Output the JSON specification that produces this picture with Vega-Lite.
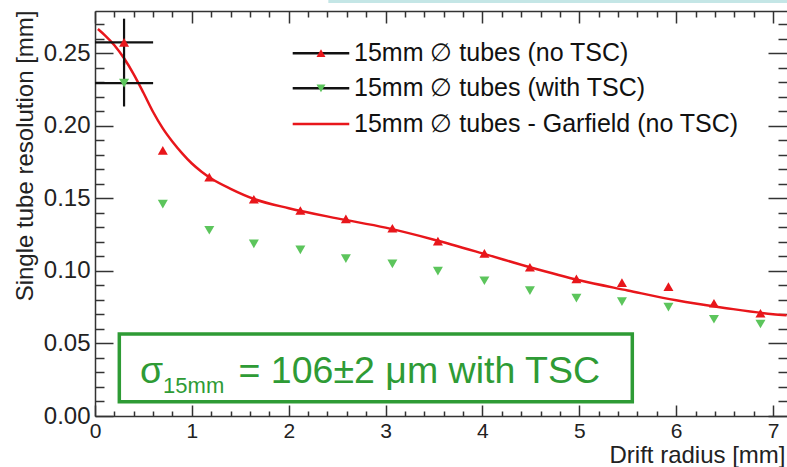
{
  "$schema": "https://vega.github.io/schema/vega-lite/v6.json",
  "width": 692,
  "height": 405,
  "autosize": {"type": "none"},
  "padding": {"left": 95, "top": 11, "right": 0, "bottom": 51},
  "background": "white",
  "config": {
    "view": {"stroke": null},
    "font": "Liberation Sans",
    "axis": {
      "domainColor": "#333", "domainWidth": 1.5, "tickColor": "#333", "tickWidth": 1.5,
      "grid": false, "labelColor": "#222", "titleColor": "#222",
      "labelFont": "Liberation Sans", "titleFont": "Liberation Sans", "titleFontWeight": "normal",
      "labelOverlap": false, "labelFlush": false, "labelBound": false
    }
  },
  "datasets": {
    "points": [
      {"r": 0.30, "res": 0.2575, "series": "no TSC"},
      {"r": 0.70, "res": 0.1830, "series": "no TSC"},
      {"r": 1.18, "res": 0.1646, "series": "no TSC"},
      {"r": 1.64, "res": 0.1494, "series": "no TSC"},
      {"r": 2.12, "res": 0.1416, "series": "no TSC"},
      {"r": 2.59, "res": 0.1359, "series": "no TSC"},
      {"r": 3.07, "res": 0.1294, "series": "no TSC"},
      {"r": 3.54, "res": 0.1205, "series": "no TSC"},
      {"r": 4.02, "res": 0.1121, "series": "no TSC"},
      {"r": 4.49, "res": 0.1025, "series": "no TSC"},
      {"r": 4.97, "res": 0.0945, "series": "no TSC"},
      {"r": 5.44, "res": 0.0919, "series": "no TSC"},
      {"r": 5.92, "res": 0.0892, "series": "no TSC"},
      {"r": 6.39, "res": 0.0777, "series": "no TSC"},
      {"r": 6.87, "res": 0.0708, "series": "no TSC"},
      {"r": 0.30, "res": 0.2294, "series": "with TSC"},
      {"r": 0.70, "res": 0.1460, "series": "with TSC"},
      {"r": 1.18, "res": 0.1280, "series": "with TSC"},
      {"r": 1.64, "res": 0.1186, "series": "with TSC"},
      {"r": 2.12, "res": 0.1145, "series": "with TSC"},
      {"r": 2.59, "res": 0.1085, "series": "with TSC"},
      {"r": 3.07, "res": 0.1048, "series": "with TSC"},
      {"r": 3.54, "res": 0.0998, "series": "with TSC"},
      {"r": 4.02, "res": 0.0932, "series": "with TSC"},
      {"r": 4.49, "res": 0.0864, "series": "with TSC"},
      {"r": 4.97, "res": 0.0812, "series": "with TSC"},
      {"r": 5.44, "res": 0.0788, "series": "with TSC"},
      {"r": 5.92, "res": 0.0750, "series": "with TSC"},
      {"r": 6.39, "res": 0.0667, "series": "with TSC"},
      {"r": 6.87, "res": 0.0634, "series": "with TSC"}
    ],
    "curve": [
      {"r": 0.03, "res": 0.2667}, {"r": 0.1, "res": 0.2625}, {"r": 0.2, "res": 0.2555},
      {"r": 0.3, "res": 0.2465}, {"r": 0.4, "res": 0.2355}, {"r": 0.5, "res": 0.2228},
      {"r": 0.6, "res": 0.2095}, {"r": 0.7, "res": 0.1982}, {"r": 0.8, "res": 0.1890},
      {"r": 0.9, "res": 0.1810}, {"r": 1.0, "res": 0.1740}, {"r": 1.1, "res": 0.1684},
      {"r": 1.2, "res": 0.1637}, {"r": 1.4, "res": 0.1566}, {"r": 1.65, "res": 0.1494},
      {"r": 2.0, "res": 0.1432}, {"r": 2.5, "res": 0.1362}, {"r": 3.0, "res": 0.1298},
      {"r": 3.5, "res": 0.1215}, {"r": 4.0, "res": 0.1121}, {"r": 4.5, "res": 0.1023},
      {"r": 5.0, "res": 0.0935}, {"r": 5.5, "res": 0.0865}, {"r": 6.0, "res": 0.0797},
      {"r": 6.5, "res": 0.0745}, {"r": 7.0, "res": 0.0702}, {"r": 7.14, "res": 0.0695}
    ],
    "errors": [
      {"r": 0.3, "res": 0.2575, "rlo": 0.0, "rhi": 0.6, "reslo": 0.2420, "reshi": 0.2738},
      {"r": 0.3, "res": 0.2294, "rlo": 0.0, "rhi": 0.6, "reslo": 0.2133, "reshi": 0.2450}
    ],
    "legend": [
      {"k": "a", "label": "15mm ∅ tubes (no TSC)", "x1": 2.041, "x2": 2.625, "xm": 2.333, "tx": 2.674, "y": 0.2500},
      {"k": "b", "label": "15mm ∅ tubes (with TSC)", "x1": 2.041, "x2": 2.625, "xm": 2.333, "tx": 2.674, "y": 0.2258},
      {"k": "c", "label": "15mm ∅ tubes - Garfield (no TSC)", "x1": 2.041, "x2": 2.625, "xm": 2.333, "tx": 2.674, "y": 0.2012}
    ],
    "box": [{"x1": 0.251, "x2": 5.547, "y1": 0.00986, "y2": 0.0565}],
    "band": [{"x1": 2.409, "x2": 7.3, "y1": 0.2846, "y2": 0.2870}],
    "annot": [
      {"t": "σ", "x": 0.465, "y": 0.02295, "kind": "big"},
      {"t": "15mm", "x": 0.703, "y": 0.01585, "kind": "sub"},
      {"t": "= 106±2 μm with TSC", "x": 1.482, "y": 0.02295, "kind": "big"}
    ]
  },
  "resolve": {"axis": {"x": "independent", "y": "independent"}},
  "layer": [
    {
      "data": {"name": "band"},
      "mark": {"type": "rect", "color": "#c4e6e6", "clip": false},
      "encoding": {
        "x": {"field": "x1", "type": "quantitative", "scale": {"domain": [0, 7.144], "nice": false, "zero": false}, "axis": null},
        "x2": {"field": "x2"},
        "y": {"field": "y1", "type": "quantitative", "scale": {"domain": [0, 0.2791], "nice": false, "zero": false}, "axis": null},
        "y2": {"field": "y2"}
      }
    },
    {
      "data": {"name": "box"},
      "mark": {"type": "rect", "fill": "white", "stroke": "#2e9b35", "strokeWidth": 3.5},
      "encoding": {
        "x": {"field": "x1", "type": "quantitative", "scale": {"domain": [0, 7.144], "nice": false, "zero": false}, "axis": null},
        "x2": {"field": "x2"},
        "y": {"field": "y1", "type": "quantitative", "scale": {"domain": [0, 0.2791], "nice": false, "zero": false}, "axis": null},
        "y2": {"field": "y2"}
      }
    },
    {
      "data": {"name": "curve"},
      "mark": {"type": "line", "color": "#e8161b", "strokeWidth": 2.5, "interpolate": "monotone"},
      "encoding": {
        "x": {
          "field": "r", "type": "quantitative",
          "scale": {"domain": [0, 7.144], "nice": false, "zero": false},
          "axis": {
            "orient": "bottom",
            "values": [0, 0.2, 0.4, 0.6, 0.8, 1, 1.2, 1.4, 1.6, 1.8, 2, 2.2, 2.4, 2.6, 2.8, 3, 3.2, 3.4, 3.6, 3.8, 4, 4.2, 4.4, 4.6, 4.8, 5, 5.2, 5.4, 5.6, 5.8, 6, 6.2, 6.4, 6.6, 6.8, 7],
            "tickSize": {"condition": {"test": "abs(datum.value - round(datum.value)) < 0.001", "value": -11}, "value": -5},
            "labelExpr": "abs(datum.value - round(datum.value)) < 0.001 ? format(datum.value, 'd') : ''",
            "labelFontSize": 21,
            "labelPadding": 15,
            "title": "Drift radius [mm]",
            "titleFontSize": 24,
            "titleAnchor": "start",
            "titleAlign": "left",
            "titleBaseline": "alphabetic",
            "titleX": 514,
            "titleY": 46
          }
        },
        "y": {
          "field": "res", "type": "quantitative",
          "scale": {"domain": [0, 0.2791], "nice": false, "zero": false},
          "axis": {
            "orient": "left",
            "values": [0, 0.01, 0.02, 0.03, 0.04, 0.05, 0.06, 0.07, 0.08, 0.09, 0.1, 0.11, 0.12, 0.13, 0.14, 0.15, 0.16, 0.17, 0.18, 0.19, 0.2, 0.21, 0.22, 0.23, 0.24, 0.25, 0.26, 0.27],
            "tickSize": {"condition": {"test": "abs(datum.value * 20 - round(datum.value * 20)) < 0.001", "value": -18}, "value": -9},
            "labelExpr": "abs(datum.value * 20 - round(datum.value * 20)) < 0.001 ? format(datum.value, '.2f') : ''",
            "labelFontSize": 24,
            "labelPadding": 23,
            "title": "Single tube resolution [mm]",
            "titleFontSize": 24,
            "titleAngle": -90,
            "titleAlign": "right",
            "titleBaseline": "alphabetic",
            "titleX": -63,
            "titleY": -1
          }
        }
      }
    },
    {
      "data": {"name": "errors"},
      "mark": {"type": "rule", "color": "#111", "strokeWidth": 2.2},
      "encoding": {
        "x": {"field": "rlo", "type": "quantitative", "scale": {"domain": [0, 7.144], "nice": false, "zero": false}, "axis": null},
        "x2": {"field": "rhi"},
        "y": {"field": "res", "type": "quantitative", "scale": {"domain": [0, 0.2791], "nice": false, "zero": false}, "axis": null}
      }
    },
    {
      "data": {"name": "errors"},
      "mark": {"type": "rule", "color": "#111", "strokeWidth": 2.2},
      "encoding": {
        "x": {"field": "r", "type": "quantitative", "scale": {"domain": [0, 7.144], "nice": false, "zero": false}, "axis": null},
        "y": {"field": "reslo", "type": "quantitative", "scale": {"domain": [0, 0.2791], "nice": false, "zero": false}, "axis": null},
        "y2": {"field": "reshi"}
      }
    },
    {
      "data": {"name": "points"},
      "transform": [{"filter": "datum.series == 'no TSC'"}],
      "mark": {"type": "point", "shape": "triangle-up", "filled": true, "color": "#e8161b", "size": 100, "opacity": 1},
      "encoding": {
        "x": {
          "field": "r", "type": "quantitative",
          "scale": {"domain": [0, 7.144], "nice": false, "zero": false},
          "axis": {
            "orient": "top",
            "values": [0, 0.2, 0.4, 0.6, 0.8, 1, 1.2, 1.4, 1.6, 1.8, 2, 2.2, 2.4, 2.6, 2.8, 3, 3.2, 3.4, 3.6, 3.8, 4, 4.2, 4.4, 4.6, 4.8, 5, 5.2, 5.4, 5.6, 5.8, 6, 6.2, 6.4, 6.6, 6.8, 7],
            "tickSize": {"condition": {"test": "abs(datum.value - round(datum.value)) < 0.001", "value": -12}, "value": -6},
            "labels": false,
            "title": null
          }
        },
        "y": {
          "field": "res", "type": "quantitative",
          "scale": {"domain": [0, 0.2791], "nice": false, "zero": false},
          "axis": {
            "orient": "right",
            "values": [0, 0.01, 0.02, 0.03, 0.04, 0.05, 0.06, 0.07, 0.08, 0.09, 0.1, 0.11, 0.12, 0.13, 0.14, 0.15, 0.16, 0.17, 0.18, 0.19, 0.2, 0.21, 0.22, 0.23, 0.24, 0.25, 0.26, 0.27],
            "tickSize": {"condition": {"test": "abs(datum.value * 20 - round(datum.value * 20)) < 0.001", "value": -19}, "value": -9},
            "labels": false,
            "domain": false,
            "title": null
          }
        }
      }
    },
    {
      "data": {"name": "points"},
      "transform": [{"filter": "datum.series == 'with TSC'"}],
      "mark": {"type": "point", "shape": "triangle-down", "filled": true, "color": "#5cc55c", "size": 100, "opacity": 1},
      "encoding": {
        "x": {"field": "r", "type": "quantitative", "scale": {"domain": [0, 7.144], "nice": false, "zero": false}, "axis": null},
        "y": {"field": "res", "type": "quantitative", "scale": {"domain": [0, 0.2791], "nice": false, "zero": false}, "axis": null}
      }
    },
    {
      "data": {"name": "legend"},
      "mark": {"type": "rule", "strokeWidth": 2.5},
      "encoding": {
        "x": {"field": "x1", "type": "quantitative", "scale": {"domain": [0, 7.144], "nice": false, "zero": false}, "axis": null},
        "x2": {"field": "x2"},
        "y": {"field": "y", "type": "quantitative", "scale": {"domain": [0, 0.2791], "nice": false, "zero": false}, "axis": null},
        "color": {"field": "k", "type": "nominal", "scale": {"domain": ["a", "b", "c"], "range": ["#111111", "#111111", "#e8161b"]}, "legend": null}
      }
    },
    {
      "data": {"name": "legend"},
      "transform": [{"filter": "datum.k == 'a'"}],
      "mark": {"type": "point", "shape": "triangle-up", "filled": true, "color": "#e8161b", "size": 80, "opacity": 1},
      "encoding": {
        "x": {"field": "xm", "type": "quantitative", "scale": {"domain": [0, 7.144], "nice": false, "zero": false}, "axis": null},
        "y": {"field": "y", "type": "quantitative", "scale": {"domain": [0, 0.2791], "nice": false, "zero": false}, "axis": null}
      }
    },
    {
      "data": {"name": "legend"},
      "transform": [{"filter": "datum.k == 'b'"}],
      "mark": {"type": "point", "shape": "triangle-down", "filled": true, "color": "#5cc55c", "size": 80, "opacity": 1},
      "encoding": {
        "x": {"field": "xm", "type": "quantitative", "scale": {"domain": [0, 7.144], "nice": false, "zero": false}, "axis": null},
        "y": {"field": "y", "type": "quantitative", "scale": {"domain": [0, 0.2791], "nice": false, "zero": false}, "axis": null}
      }
    },
    {
      "data": {"name": "legend"},
      "mark": {"type": "text", "align": "left", "baseline": "middle", "fontSize": 25, "color": "#111", "font": "Liberation Sans"},
      "encoding": {
        "x": {"field": "tx", "type": "quantitative", "scale": {"domain": [0, 7.144], "nice": false, "zero": false}, "axis": null},
        "y": {"field": "y", "type": "quantitative", "scale": {"domain": [0, 0.2791], "nice": false, "zero": false}, "axis": null},
        "text": {"field": "label"}
      }
    },
    {
      "data": {"name": "annot"},
      "transform": [{"filter": "datum.kind == 'big'"}],
      "mark": {"type": "text", "align": "left", "baseline": "alphabetic", "fontSize": 37.5, "color": "#2e9b35", "font": "Liberation Sans"},
      "encoding": {
        "x": {"field": "x", "type": "quantitative", "scale": {"domain": [0, 7.144], "nice": false, "zero": false}, "axis": null},
        "y": {"field": "y", "type": "quantitative", "scale": {"domain": [0, 0.2791], "nice": false, "zero": false}, "axis": null},
        "text": {"field": "t"}
      }
    },
    {
      "data": {"name": "annot"},
      "transform": [{"filter": "datum.kind == 'sub'"}],
      "mark": {"type": "text", "align": "left", "baseline": "alphabetic", "fontSize": 22, "color": "#2e9b35", "font": "Liberation Sans"},
      "encoding": {
        "x": {"field": "x", "type": "quantitative", "scale": {"domain": [0, 7.144], "nice": false, "zero": false}, "axis": null},
        "y": {"field": "y", "type": "quantitative", "scale": {"domain": [0, 0.2791], "nice": false, "zero": false}, "axis": null},
        "text": {"field": "t"}
      }
    }
  ]
}
